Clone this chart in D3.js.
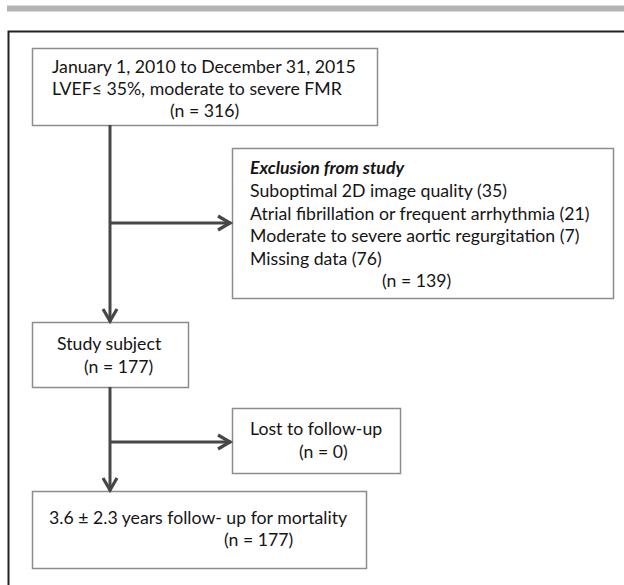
<!DOCTYPE html>
<html><head><meta charset="utf-8">
<script src="https://cdn.jsdelivr.net/npm/d3@7"></script>
<style>html,body{margin:0;padding:0;background:#fff;}</style>
</head><body>
<script>
// ---- data ----
const periodStart = "January 1, 2010";
const periodEnd = "December 31, 2015";
const criteria = "LVEF≤ 35%, moderate to severe FMR";
const nScreened = 316;
const exclusionTitle = "Exclusion from study";
const exclusionReasons = ["Suboptimal 2D image quality", "Atrial fibrillation or frequent arrhythmia", "Moderate to severe aortic regurgitation", "Missing data"];
const exclusionCounts = [35, 21, 7, 76];
const nExcluded = 139;
const studyLabel = "Study subject";
const nStudy = 177;
const lostLabel = "Lost to follow-up";
const nLost = 0;
const followMean = 3.6, followSD = 2.3;
const followLabel = "years follow- up for mortality";
const nFollow = 177;

const W = 624, H = 585;
const svg = d3.select("body").append("svg").attr("width", W).attr("height", H);
const FONT = "Lato, 'Open Sans', sans-serif";

// fit font size so first line width matches reference
const probe = svg.append("text").attr("font-family", FONT).attr("font-size", 20)
  .text(`${periodStart} to ${periodEnd}`);
const fs = 20 * 304 / probe.node().getComputedTextLength();
probe.remove();

// decorative top bar and frame
svg.append("rect").attr("x", 7).attr("y", 5.5).attr("width", W - 7).attr("height", 6).attr("fill", "#b4b4b4");
svg.append("path").attr("d", `M8.5,${H} V31.5 H${W}`).attr("fill", "none").attr("stroke", "#222").attr("stroke-width", 2);

const boxes = [
  {x0: 32, y0: 48, x1: 377, y1: 125, lines: [
    {t: `${periodStart} to ${periodEnd}`, x: 52, y: 73},
    {t: criteria, x: 52, y: 95},
    {t: `(n = ${nScreened})`, x: 170, y: 117}]},
  {x0: 232, y0: 148, x1: 613, y1: 298, lines: [
    {t: exclusionTitle, x: 250, y: 174, bold: true},
    ...exclusionReasons.map((r, i) => ({t: `${r} (${exclusionCounts[i]})`, x: 250, y: 197 + i * 22.5})),
    {t: `(n = ${nExcluded})`, x: 382, y: 287}]},
  {x0: 32, y0: 322, x1: 188, y1: 387, lines: [
    {t: studyLabel, x: 57, y: 350},
    {t: `(n = ${nStudy})`, x: 84, y: 373}]},
  {x0: 232, y0: 408, x1: 400, y1: 473, lines: [
    {t: lostLabel, x: 250, y: 435},
    {t: `(n = ${nLost})`, x: 299, y: 458}]},
  {x0: 32, y0: 491, x1: 366, y1: 568, lines: [
    {t: `${followMean} ± ${followSD} ${followLabel}`, x: 49, y: 524},
    {t: `(n = ${nFollow})`, x: 224, y: 546}]}
];

const g = svg.selectAll("g.box").data(boxes).join("g").attr("class", "box");
g.append("rect")
  .attr("x", d => d.x0 + 0.5).attr("y", d => d.y0 + 0.5)
  .attr("width", d => d.x1 - d.x0).attr("height", d => d.y1 - d.y0)
  .attr("fill", "#fff").attr("stroke", "#8c8c8c").attr("stroke-width", 1.5);
g.selectAll("text").data(d => d.lines).join("text")
  .attr("x", d => d.x).attr("y", d => d.y)
  .attr("font-family", FONT).attr("font-size", fs)
  .attr("font-weight", d => d.bold ? "bold" : "normal")
  .attr("font-style", d => d.bold ? "italic" : "normal")
  .attr("fill", "#151515")
  .text(d => d.t);

// arrows
const stroke = "#474747";
const lines = [
  [[110, 125], [110, 322]],
  [[110, 223], [231, 223]],
  [[110, 387], [110, 491]],
  [[110, 442], [231, 442]]
];
svg.selectAll("path.conn").data(lines).join("path").attr("class", "conn")
  .attr("d", d => d3.line()(d)).attr("stroke", stroke).attr("stroke-width", 3).attr("fill", "none");
const heads = [
  {x: 110, y: 321, dir: "down"}, {x: 110, y: 490, dir: "down"},
  {x: 230, y: 223, dir: "right"}, {x: 230, y: 442, dir: "right"}
];
svg.selectAll("path.head").data(heads).join("path").attr("class", "head")
  .attr("d", d => d.dir === "down"
    ? `M${d.x - 7},${d.y - 12} L${d.x},${d.y} L${d.x + 7},${d.y - 12}`
    : `M${d.x - 12},${d.y - 7} L${d.x},${d.y} L${d.x - 12},${d.y + 7}`)
  .attr("stroke", stroke).attr("stroke-width", 3.2).attr("fill", "none")
  .attr("stroke-linejoin", "miter").attr("stroke-linecap", "butt");
</script>
</body></html>
